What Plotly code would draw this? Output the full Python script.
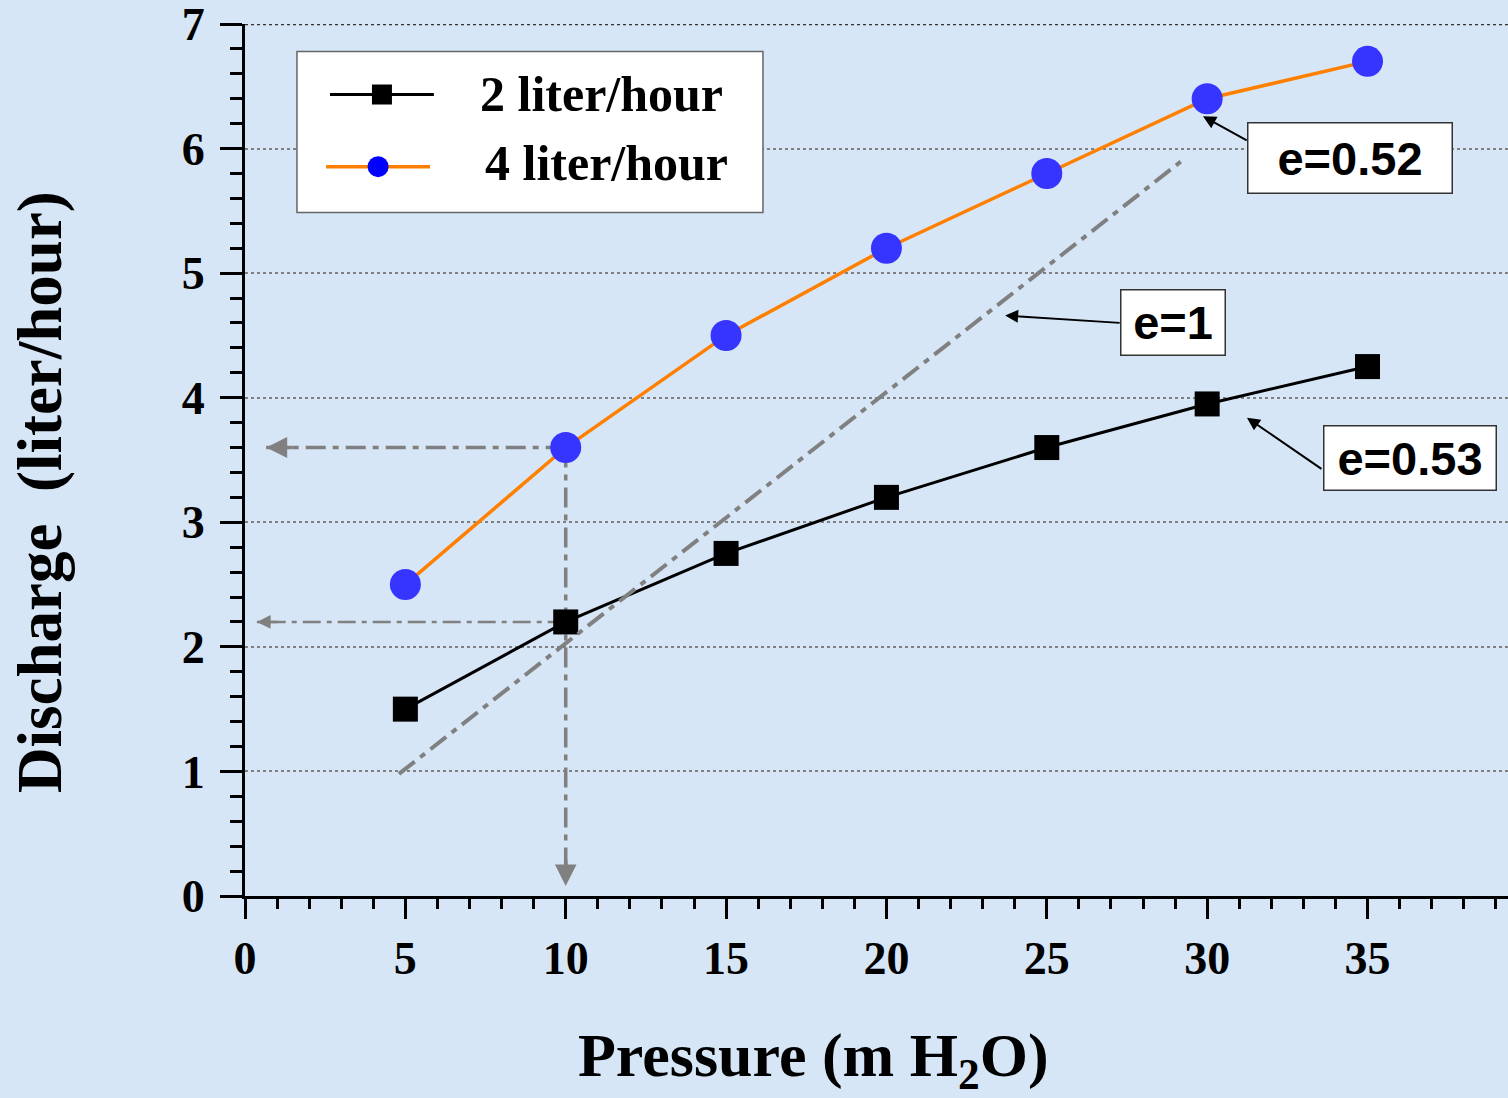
import plotly.graph_objects as go

# ---------------- data ----------------
pressure = [5, 10, 15, 20, 25, 30, 35]
q_2lph = [1.5, 2.2, 2.75, 3.2, 3.6, 3.95, 4.25]
q_4lph = [2.5, 3.6, 4.5, 5.2, 5.8, 6.4, 6.7]
series_names = ["2 liter/hour", "4 liter/hour"]

# reference line with exponent e = 1 (Q proportional to P)
e1_x = [4.8, 29.2]
e1_y = [0.98, 5.9]

# read-off guide lines at P = 10
guide_p = 10
guide_q = [3.6, 2.2]

exponent_labels = ["e=0.52", "e=1", "e=0.53"]
x_ticks = [0, 5, 10, 15, 20, 25, 30, 35]
y_ticks = [0, 1, 2, 3, 4, 5, 6, 7]

# ---------------- styling ----------------
BG = "#d6e6f6"
GREY = "#808080"
SERIF = "Liberation Serif"
SANS = "Liberation Sans"
ORANGE = "#ff8000"
BLUE_M = "#3535ff"

fig = go.Figure()

# guide lines (behind markers)
fig.add_trace(go.Scatter(x=[guide_p, guide_p], y=[guide_q[0], 0.08], mode="lines",
                         line=dict(color=GREY, width=3.5, dash="20px,7px,6px,7px"),
                         showlegend=False, hoverinfo="skip"))
fig.add_trace(go.Scatter(x=[guide_p, 0.66], y=[guide_q[0], guide_q[0]], mode="lines",
                         line=dict(color=GREY, width=3.5, dash="20px,7px,6px,7px"),
                         showlegend=False, hoverinfo="skip"))
fig.add_trace(go.Scatter(x=[guide_p, 0.37], y=[guide_q[1], guide_q[1]], mode="lines",
                         line=dict(color=GREY, width=2.5, dash="18px,6px,5px,6px"),
                         showlegend=False, hoverinfo="skip"))

# 2 liter/hour
fig.add_trace(go.Scatter(x=pressure, y=q_2lph, mode="lines+markers", name=series_names[0],
                         line=dict(color="black", width=3),
                         marker=dict(symbol="square", size=25, color="black"),
                         showlegend=False))
# e = 1 line
fig.add_trace(go.Scatter(x=e1_x, y=e1_y, mode="lines",
                         line=dict(color=GREY, width=4, dash="20px,7px,6px,7px"),
                         showlegend=False, hoverinfo="skip"))
# 4 liter/hour
fig.add_trace(go.Scatter(x=pressure, y=q_4lph, mode="lines+markers", name=series_names[1],
                         line=dict(color=ORANGE, width=3.5),
                         marker=dict(symbol="circle", size=31, color=BLUE_M),
                         showlegend=False))

tickfont = dict(family=SERIF, size=46, color="black", weight="bold")

fig.update_layout(
    width=1508, height=1098,
    margin=dict(l=245, r=0, t=24, b=202, pad=0),
    paper_bgcolor=BG, plot_bgcolor=BG,
    xaxis=dict(range=[0, 39.38], tickmode="array", tickvals=x_ticks,
               ticks="outside", ticklen=20, tickwidth=3, tickcolor="black",
               showline=True, linewidth=3, linecolor="black",
               showgrid=False, zeroline=False, tickfont=tickfont,
               ticklabelstandoff=0, ticklabeloverflow="allow",
               minor=dict(dtick=1, tick0=0, ticks="outside", ticklen=10,
                          tickwidth=2.5, tickcolor="black", showgrid=False)),
    yaxis=dict(range=[0, 7], tickmode="array", tickvals=y_ticks,
               ticks="outside", ticklen=22, tickwidth=3, tickcolor="black",
               showline=True, linewidth=3, linecolor="black",
               showgrid=True, gridcolor=GREY, gridwidth=2, griddash="dot",
               zeroline=False, tickfont=tickfont, ticklabelstandoff=6,
               ticklabeloverflow="allow",
               minor=dict(dtick=0.2, tick0=0, ticks="outside", ticklen=12,
                          tickwidth=2.5, tickcolor="black", showgrid=False)),
)

shapes = []
# top frame line at 7
shapes.append(dict(type="line", xref="paper", yref="y", x0=0, x1=1, y0=7, y1=7,
                   line=dict(color="#333333", width=2.5, dash="dot")))
# legend box
shapes.append(dict(type="rect", xref="x", yref="y", x0=1.62, x1=16.15, y0=5.486, y1=6.779,
                   fillcolor="white", line=dict(color="#666666", width=1.5), layer="above"))
shapes.append(dict(type="line", xref="x", yref="y", x0=2.65, x1=5.89, y0=6.434, y1=6.434,
                   line=dict(color="black", width=3), layer="above"))
shapes.append(dict(type="rect", xref="x", yref="y", xsizemode="pixel", ysizemode="pixel",
                   xanchor=4.27, yanchor=6.434, x0=-10, x1=10, y0=-10, y1=10,
                   fillcolor="black", line=dict(width=0), layer="above"))
shapes.append(dict(type="line", xref="x", yref="y", x0=2.53, x1=5.77, y0=5.855, y1=5.855,
                   line=dict(color=ORANGE, width=3.5), layer="above"))
shapes.append(dict(type="circle", xref="x", yref="y", xsizemode="pixel", ysizemode="pixel",
                   xanchor=4.15, yanchor=5.855, x0=-10.5, x1=10.5, y0=-10.5, y1=10.5,
                   fillcolor="#0000ff", line=dict(width=0), layer="above"))
fig.update_layout(shapes=shapes)

ann = []
legfont = dict(family=SERIF, size=50, color="black", weight="bold")
ann.append(dict(x=7.28, y=6.44, xref="x", yref="y", text=series_names[0], showarrow=False,
                xanchor="left", yanchor="middle", font=legfont))
ann.append(dict(x=7.43, y=5.888, xref="x", yref="y", text=series_names[1], showarrow=False,
                xanchor="left", yanchor="middle", font=legfont))

# exponent labels in boxes
boxfont = dict(family=SANS, size=47, color="black", weight="bold")
box_specs = [
    (exponent_labels[0], 34.46, 5.924, 199, 65),
    (exponent_labels[1], 28.94, 4.602, 99, 60),
    (exponent_labels[2], 36.33, 3.514, 167, 59),
]
for txt, bx, by, w, h in box_specs:
    ann.append(dict(x=bx, y=by, xref="x", yref="y", text=txt, showarrow=False,
                    xanchor="center", yanchor="middle", font=boxfont,
                    bgcolor="white", bordercolor="#333333", borderwidth=1.5,
                    borderpad=2, width=w, height=h, align="center", valign="middle"))

# black pointer arrows
arrow_specs = [
    (29.87, 6.26, 31.28, 6.06),
    (23.70, 4.66, 27.32, 4.60),
    (31.24, 3.84, 33.61, 3.42),
]
for tx, ty, sx, sy in arrow_specs:
    ann.append(dict(x=tx, y=ty, ax=sx, ay=sy, xref="x", yref="y", axref="x", ayref="y",
                    text="", showarrow=True, arrowhead=2, arrowwidth=2, arrowsize=1.3,
                    arrowcolor="black"))

# grey guide arrowheads
ann.append(dict(x=0.66, y=guide_q[0], xref="x", yref="y", ax=28, ay=0, text="",
                showarrow=True, arrowhead=2, arrowwidth=3.5, arrowsize=1.2, arrowcolor=GREY))
ann.append(dict(x=0.37, y=guide_q[1], xref="x", yref="y", ax=22, ay=0, text="",
                showarrow=True, arrowhead=2, arrowwidth=2.5, arrowsize=1.1, arrowcolor=GREY))
ann.append(dict(x=guide_p, y=0.08, xref="x", yref="y", ax=0, ay=-28, text="",
                showarrow=True, arrowhead=2, arrowwidth=3.5, arrowsize=1.23, arrowcolor=GREY))

# axis titles
titlefont = dict(family=SERIF, size=62, color="black", weight="bold")
ann.append(dict(x=(813 - 245) / 1263, y=(896 - 1059) / 872, xref="paper", yref="paper",
                text="Pressure (m H<sub>2</sub>O)", showarrow=False,
                xanchor="center", yanchor="middle", font=titlefont))
ann.append(dict(x=(40 - 245) / 1263, y=(896 - 492) / 872, xref="paper", yref="paper",
                text="Discharge  (liter/hour)", showarrow=False, textangle=-90,
                xanchor="center", yanchor="middle", font=dict(family=SERIF, size=63,
                                                               color="black", weight="bold")))

fig.update_layout(annotations=ann)

fig.write_html("out.html",
               config={"displayModeBar": False},
               post_script="document.body.style.margin='0px';"
                           "document.body.style.background='" + BG + "';")
